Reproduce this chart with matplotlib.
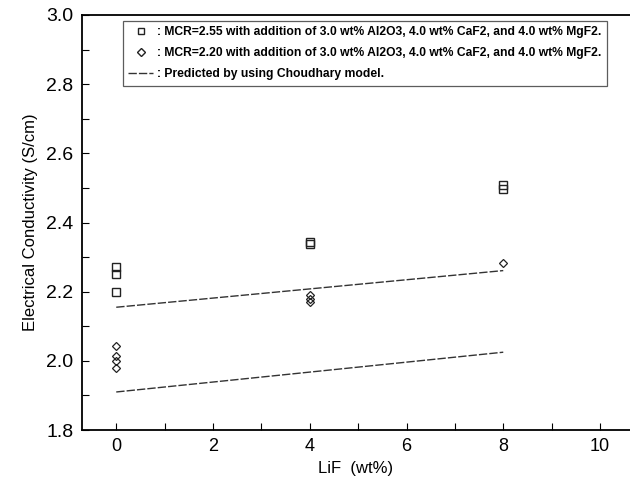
import matplotlib
matplotlib.use('Agg')
import matplotlib.pyplot as plt
from matplotlib.ticker import MultipleLocator
from matplotlib.lines import Line2D

plt.rcParams['font.family'] = ['Liberation Sans', 'DejaVu Sans']

# measured points, MCR=2.55
x_255 = [0, 0, 0, 4, 4, 8, 8]
y_255 = [2.27, 2.25, 2.20, 2.345, 2.338, 2.508, 2.497]
# measured points, MCR=2.20
x_220 = [0, 0, 0, 0, 4, 4, 4, 8]
y_220 = [2.044, 2.015, 2.001, 1.979, 2.19, 2.18, 2.17, 2.283]
# Choudhary model predictions
x_model = [0, 8]
y_model_255 = [2.155, 2.261]
y_model_220 = [1.910, 2.025]

labels = [': MCR=2.55 with addition of 3.0 wt% Al2O3, 4.0 wt% CaF2, and 4.0 wt% MgF2.',
          ': MCR=2.20 with addition of 3.0 wt% Al2O3, 4.0 wt% CaF2, and 4.0 wt% MgF2.',
          ': Predicted by using Choudhary model.']

fig = plt.figure(figsize=(6.3, 4.9), dpi=100)
ax = fig.add_axes([0.130, 0.1224, 0.870, 0.847])

ax.plot(x_model, y_model_255, color='#333333', lw=1.0, dashes=(6, 1.5))
ax.plot(x_model, y_model_220, color='#333333', lw=1.0, dashes=(6, 1.5))
ax.plot(x_255, y_255, ls='none', marker='s', ms=6, mfc='none', mec='#222222', mew=1.0)
ax.plot(x_220, y_220, ls='none', marker='D', ms=4.5, mfc='none', mec='#222222', mew=0.9)

ax.set_xlim(-0.71, 10.62)
ax.set_ylim(1.8, 3.0)
ax.xaxis.set_major_locator(MultipleLocator(2))
ax.xaxis.set_minor_locator(MultipleLocator(1))
ax.yaxis.set_major_locator(MultipleLocator(0.2))
ax.yaxis.set_minor_locator(MultipleLocator(0.1))
ax.yaxis.set_major_formatter(matplotlib.ticker.FormatStrFormatter('%.1f'))
ax.tick_params(which='both', direction='in', top=False, right=False)
ax.tick_params(which='major', length=5, width=0.8)
ax.tick_params(which='minor', length=5, width=0.8)
ax.tick_params(axis='y', labelsize=14, pad=6)
ax.tick_params(axis='x', labelsize=13, pad=6)
ax.spines['right'].set_visible(False)
for s in ['left', 'bottom', 'top']:
    ax.spines[s].set_linewidth(1.3)

ax.set_xlabel('LiF  (wt%)', fontsize=12, labelpad=4)
ax.set_ylabel('Electrical Conductivity (S/cm)', fontsize=12, labelpad=6)

handles = [Line2D([], [], ls='none', marker='s', ms=5, mfc='none', mec='#222222'),
           Line2D([], [], ls='none', marker='D', ms=4, mfc='none', mec='#222222'),
           Line2D([], [], color='#333333', lw=1.0, dashes=(6, 1.5))]
leg = ax.legend(handles, labels, loc='upper left', bbox_to_anchor=(0.075, 0.986),
                borderaxespad=0, fontsize=8.7, frameon=True, fancybox=False,
                edgecolor='#333333', handlelength=2.0, handletextpad=0.4,
                labelspacing=0.75, borderpad=0.45)
leg.get_frame().set_linewidth(0.9)
for t in leg.get_texts():
    t.set_fontweight('bold')

fig.savefig('out.png', dpi=100)
